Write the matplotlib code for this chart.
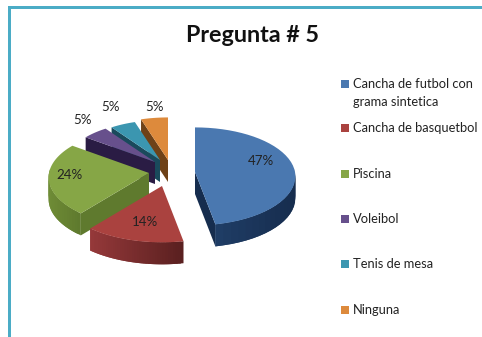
import numpy as np
import matplotlib
matplotlib.use("Agg")
import matplotlib.pyplot as plt
from matplotlib.colors import to_rgb
from matplotlib.patches import Polygon, Rectangle

title = "Pregunta # 5"
categories = ["Cancha de futbol con\ngrama sintetica", "Cancha de basquetbol", "Piscina",
              "Voleibol", "Tenis de mesa", "Ninguna"]
values = [47, 14, 24, 5, 5, 5]
labels = ["47%", "14%", "24%", "5%", "5%", "5%"]

# style and layout (pixels)
top_colors = ["#4a78b0", "#aa423f", "#86a646", "#67508c", "#3b96b0", "#dd8a3c"]
wall_light = ["#23436e", "#96393a", "#6f8c36", "#3a2a58", "#24647a", "#8a5522"]
wall_dark = ["#162d4e", "#5a2020", "#5f7a2e", "#2a1c44", "#1a4a5c", "#6e4218"]
apex = [(195, 172), (162, 186), (149, 173), (155, 162), (160, 160), (168, 160)]
radius_scale = [1.0, 1.05, 1.0, 0.9, 0.88, 0.95]
draw_order = [5, 4, 3, 2, 1, 0]
label_xy = [(261, 161), (145, 222), (69, 175), (83, 120), (111, 107), (155, 107)]
legend_y = [84, 128, 174, 219, 264, 310]
A, B, K, DEPTH = 100, 49, 0.09, 22

W, H = 482, 337
fig = plt.figure(figsize=(W / 100, H / 100), dpi=100, facecolor="white")
ax = fig.add_axes([0, 0, 1, 1])
ax.set_xlim(0, W)
ax.set_ylim(H, 0)
ax.axis("off")
plt.rcParams["font.family"] = ["Lato", "DejaVu Sans"]

BORDER = "#4bacc6"
ax.add_patch(Rectangle((8, 6), W - 8, 2.6, color=BORDER, lw=0))
ax.add_patch(Rectangle((8, 6), 2.6, H - 6, color=BORDER, lw=0))


def project(theta, scale, origin):
    u, v = scale * np.sin(theta), -scale * np.cos(theta)
    s = 1 + K * v
    return origin[0] + A * u * s, origin[1] + B * v * s


def mix(c1, c2, t):
    c1, c2 = np.array(to_rgb(c1)), np.array(to_rgb(c2))
    return tuple(c1 + (c2 - c1) * t)


bounds = np.radians(np.cumsum([0] + values) * 3.6)
for i in draw_order:
    thetas = np.linspace(bounds[i], bounds[i + 1], 40)
    xs, ys = project(thetas, radius_scale[i], apex[i])
    cx, cy = np.mean([apex[i][0], xs[0], xs[-1], xs[len(xs) // 2]]), np.mean([apex[i][1], ys[0], ys[-1], ys[len(ys) // 2]])
    ax0, ay0 = apex[i]
    # radial walls, only those facing the viewer
    for ex, ey in [(xs[0], ys[0]), (xs[-1], ys[-1])]:
        if abs(ex - ax0) < 1:
            continue
        line_y = ay0 + (ey - ay0) * (cx - ax0) / (ex - ax0)
        if line_y > cy:
            quad = [(ax0, ay0), (ex, ey), (ex, ey + DEPTH), (ax0, ay0 + DEPTH)]
            ax.add_patch(Polygon(quad, closed=True, fc=wall_dark[i], ec="none"))
    # outer curved wall: front-facing part only, shaded along its length
    span = xs.max() - xs.min()
    for j in range(len(xs) - 1):
        if np.cos(thetas[j]) > 0.03 and np.cos(thetas[j + 1]) > 0.03:
            continue
        t = (xs[j] - xs.min()) / span
        col = mix(wall_light[i], wall_dark[i], t)
        k = min(j + 2, len(xs) - 1)
        quad = [(xs[j], ys[j]), (xs[k], ys[k]), (xs[k], ys[k] + DEPTH), (xs[j], ys[j] + DEPTH)]
        ax.add_patch(Polygon(quad, closed=True, fc=col, ec="none"))
    # top face
    face = [apex[i]] + list(zip(xs, ys))
    ax.add_patch(Polygon(face, closed=True, fc=top_colors[i], ec="none"))

for lab, (x, y) in zip(labels, label_xy):
    ax.text(x, y, lab, ha="center", va="center", fontsize=9.6, color="#222222")

ax.text(252, 35, title, ha="center", va="center", fontsize=16.8, fontweight="bold", color="#111111")

for cat, col, y in zip(categories, top_colors, legend_y):
    ax.add_patch(Rectangle((341, y - 4), 7.5, 8, color=col, lw=0))
    for n, line in enumerate(cat.split("\n")):
        ax.text(353, y + n * 18, line, ha="left", va="center", fontsize=9.25, color="#222222")

fig.savefig("out.png", dpi=100)
